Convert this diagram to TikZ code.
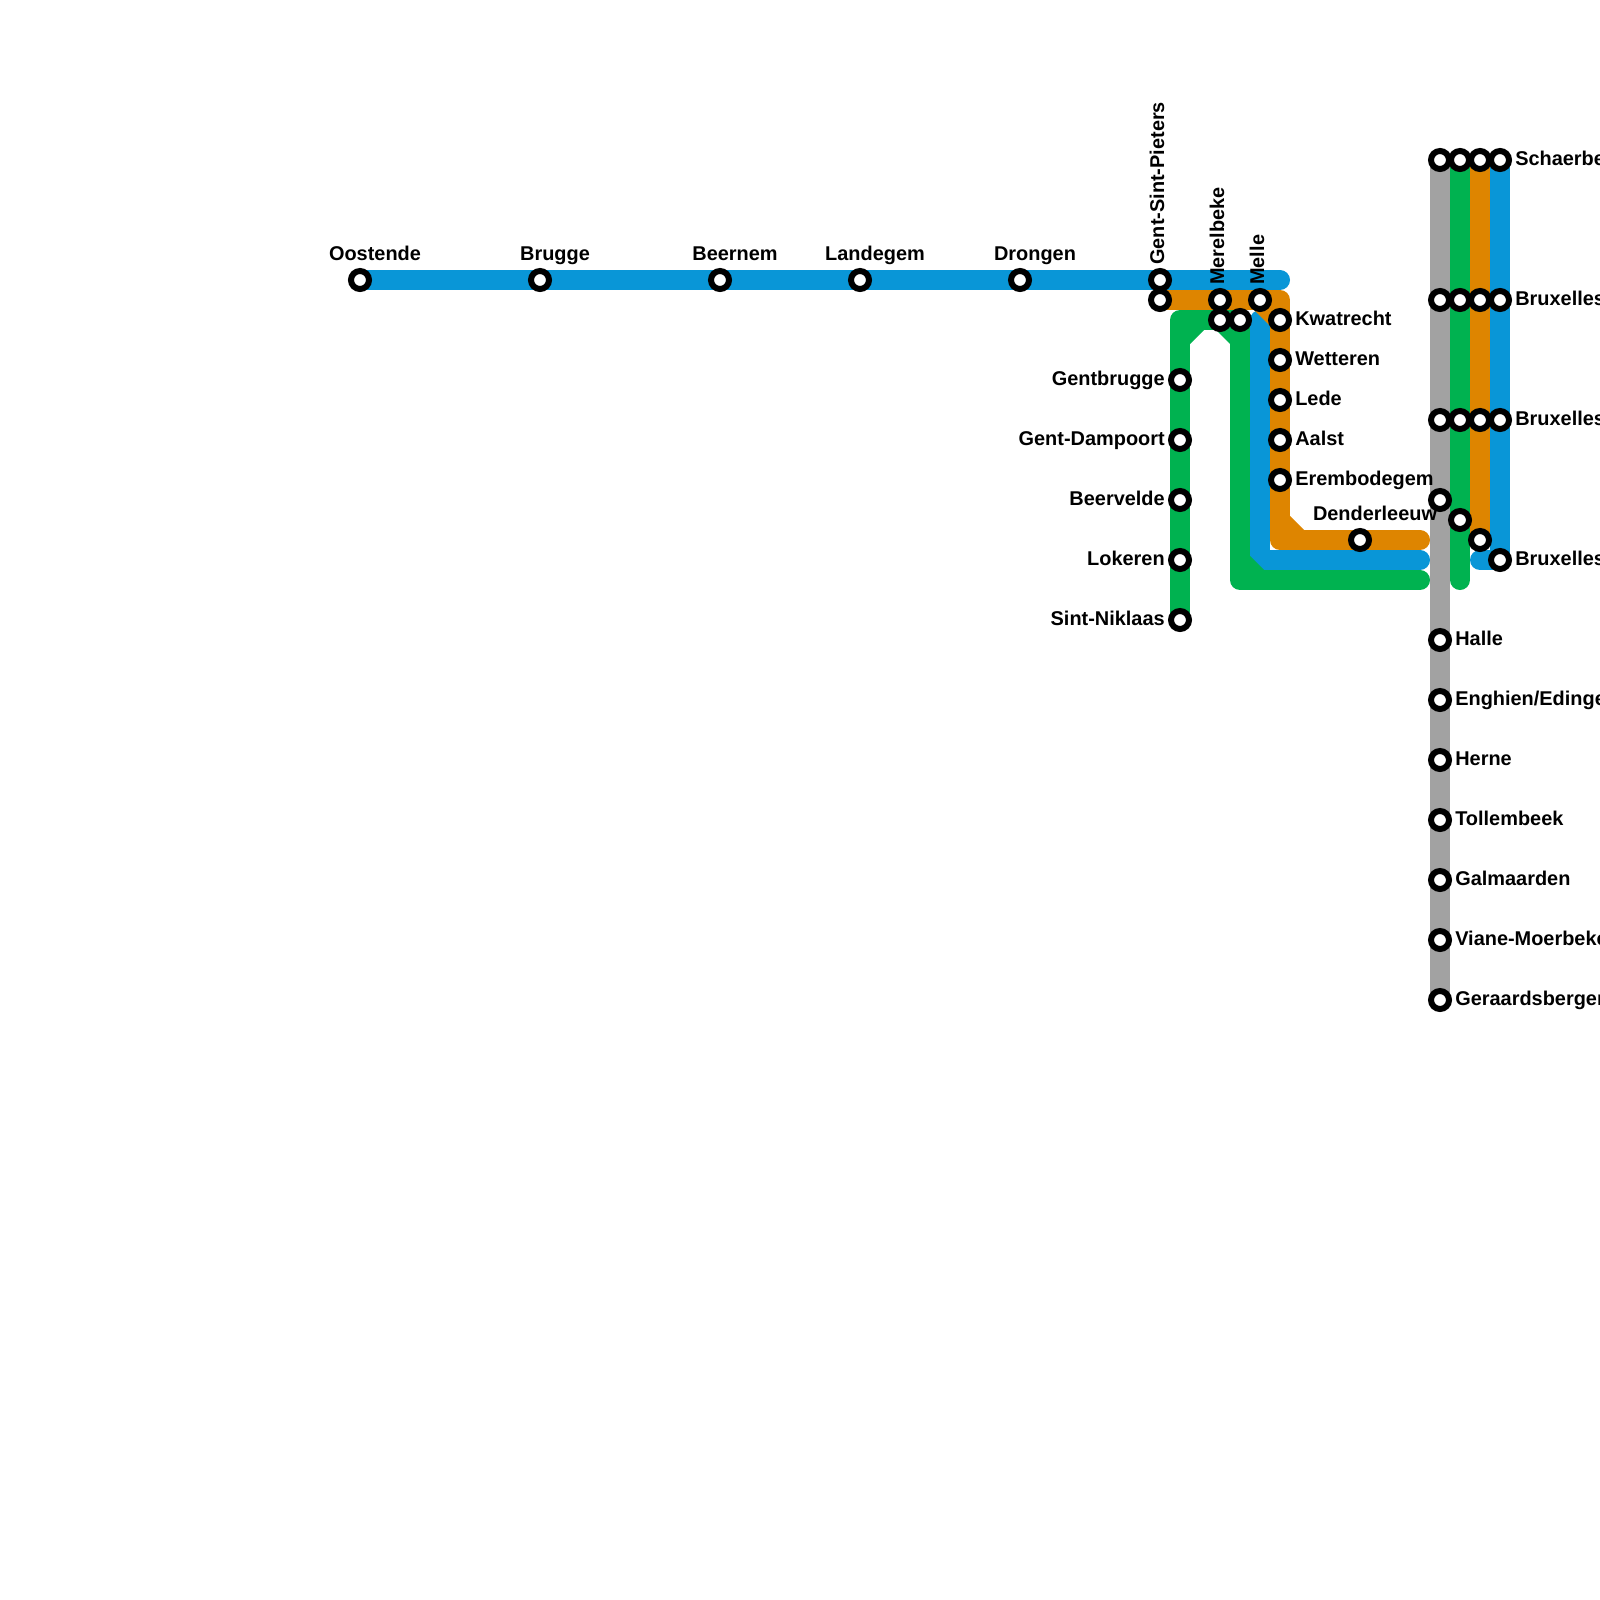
\documentclass[tikz,border=0pt]{standalone}
\usepackage{fontspec}
\setmainfont{Liberation Sans}
\usepackage{xcolor}
\usetikzlibrary{backgrounds}

\definecolor{lineblue}{RGB}{9,150,215}
\definecolor{lineorange}{RGB}{222,133,0}
\definecolor{linegreen}{RGB}{0,178,80}
\definecolor{linegrey}{RGB}{162,162,162}

\tikzset{
  track/.style={line width=0.5cm, line cap=round, line join=round},
  stn/.style={circle, draw=black, fill=white, line width=0.15cm, minimum size=0.45cm, inner sep=0pt, outer sep=0pt},
  txt/.style={inner sep=0pt, font=\fontsize{14.17}{17}\selectfont\bfseries},
  rlabel/.style={txt, anchor=base west, xshift=0.375cm, yshift=-0.135cm},
  llabel/.style={txt, anchor=base east, xshift=-0.375cm, yshift=-0.135cm},
  tlabel/.style={txt, anchor=base, xshift=0.375cm, yshift=0.5cm},
  vlabel/.style={txt, anchor=base west, rotate=90, xshift=0.375cm, yshift=-0.1cm},
}

\begin{document}
\begin{tikzpicture}[x=0.5cm, y=-0.5cm]
\useasboundingbox (0,0) rectangle (80,80);
% станции
\node [stn] (oostende) at (18,14) {};
\node [stn] (brugge) at (27,14) {};
\node [stn] (beernem) at (36,14) {};
\node [stn] (landegem) at (43,14) {};
\node [stn] (drongen) at (51,14) {};
\node [stn] (gentsp) at (58,14) {};
\node [stn] (gentspb) at (58,15) {};
\node [stn] (merelbeke) at (61,15) {};
\node [stn] (merelbekeb) at (61,16) {};
\node [stn] (mellec) at (62,16) {};
\node [stn] (melle) at (63,15) {};
\node [stn] (kwatrecht) at (64,16) {};
\node [stn] (wetteren) at (64,18) {};
\node [stn] (lede) at (64,20) {};
\node [stn] (aalst) at (64,22) {};
\node [stn] (erembodegem) at (64,24) {};
\node [stn] (denderleeuw) at (68,27) {};
\node [stn] (gentbrugge) at (59,19) {};
\node [stn] (dampoort) at (59,22) {};
\node [stn] (beervelde) at (59,25) {};
\node [stn] (lokeren) at (59,28) {};
\node [stn] (niklaas) at (59,31) {};
\node [stn] (schaerbeekd) at (72,8) {};
\node [stn] (schaerbeekc) at (73,8) {};
\node [stn] (schaerbeekb) at (74,8) {};
\node [stn] (schaerbeek) at (75,8) {};
\node [stn] (nordd) at (72,15) {};
\node [stn] (nordc) at (73,15) {};
\node [stn] (nordb) at (74,15) {};
\node [stn] (nord) at (75,15) {};
\node [stn] (centrald) at (72,21) {};
\node [stn] (centralc) at (73,21) {};
\node [stn] (centralb) at (74,21) {};
\node [stn] (central) at (75,21) {};
\node [stn] (midid) at (72,25) {};
\node [stn] (midic) at (73,26) {};
\node [stn] (midib) at (74,27) {};
\node [stn] (midi) at (75,28) {};
\node [stn] (halle) at (72,32) {};
\node [stn] (enghien) at (72,35) {};
\node [stn] (herne) at (72,38) {};
\node [stn] (tollembeek) at (72,41) {};
\node [stn] (galmaarden) at (72,44) {};
\node [stn] (viane) at (72,47) {};
\node [stn] (geraardsbergen) at (72,50) {};
% изгибы и концы линий
\coordinate (bluetop) at (64,14);
\coordinate (bluestart) at (63,16);
\coordinate (bluebend) at (63,28);
\coordinate (blueend) at (71,28);
\coordinate (bluestub) at (74,28);
\coordinate (orangebend) at (64,15);
\coordinate (orangelow) at (64,27);
\coordinate (orangeend) at (71,27);
\coordinate (greenbend) at (59,16);
\coordinate (greenlow) at (62,29);
\coordinate (greenend) at (71,29);
\coordinate (greenstub) at (73,29);
% линии
\begin{scope}[on background layer]
\draw [track, lineblue] (oostende.center) -- (brugge.center) -- (beernem.center) -- (landegem.center) -- (drongen.center) -- (gentsp.center) -- (bluetop);
\draw [track, lineblue] (bluestart) -- (bluebend) -- (blueend);
\draw [track, lineblue] (schaerbeek.center) -- (nord.center) -- (central.center) -- (midi.center) -- (bluestub);
\draw [track, lineorange] (gentspb.center) -- (merelbeke.center) -- (melle.center) -- (orangebend) -- (kwatrecht.center) -- (erembodegem.center) -- (orangelow) -- (denderleeuw.center) -- (orangeend);
\draw [track, lineorange] (schaerbeekb.center) -- (nordb.center) -- (centralb.center) -- (midib.center);
\draw [track, linegreen] (niklaas.center) -- (lokeren.center) -- (beervelde.center) -- (dampoort.center) -- (gentbrugge.center) -- (greenbend) -- (merelbekeb.center) -- (mellec.center) -- (greenlow) -- (greenend);
\draw [track, linegreen] (schaerbeekc.center) -- (nordc.center) -- (centralc.center) -- (midic.center) -- (greenstub);
\draw [track, linegrey] (schaerbeekd.center) -- (nordd.center) -- (centrald.center) -- (midid.center) -- (halle.center) -- (geraardsbergen.center);
% срезы углов
\fill [lineorange] (62.7,15.5) -- (63.5,15.5) -- (63.5,16.3) -- cycle;
\fill [lineorange] (64.5,25.8) -- (65.2,26.5) -- (64.5,26.5) -- cycle;
\fill [linegreen] (59.5,17.2) -- (60.2,16.5) -- (59.5,16.5) -- cycle;
\fill [linegreen] (60.8,16.5) -- (61.5,17.2) -- (61.5,16.5) -- cycle;
\fill [linegreen] (62.5,27.8) -- (63.2,28.5) -- (62.5,28.5) -- cycle;
\end{scope}
% подписи
\node [tlabel] (oostende-t) at (oostende) {Oostende};
\node [tlabel] (brugge-t) at (brugge) {Brugge};
\node [tlabel] (beernem-t) at (beernem) {Beernem};
\node [tlabel] (landegem-t) at (landegem) {Landegem};
\node [tlabel] (drongen-t) at (drongen) {Drongen};
\node [tlabel] (denderleeuw-t) at (denderleeuw) {Denderleeuw};
\node [vlabel] (gentsp-t) at (gentsp) {Gent-Sint-Pieters};
\node [vlabel] (merelbeke-t) at (merelbeke) {Merelbeke};
\node [vlabel] (melle-t) at (melle) {Melle};
\node [rlabel] (kwatrecht-t) at (kwatrecht) {Kwatrecht};
\node [rlabel] (wetteren-t) at (wetteren) {Wetteren};
\node [rlabel] (lede-t) at (lede) {Lede};
\node [rlabel] (aalst-t) at (aalst) {Aalst};
\node [rlabel] (erembodegem-t) at (erembodegem) {Erembodegem};
\node [llabel] (gentbrugge-t) at (gentbrugge) {Gentbrugge};
\node [llabel] (dampoort-t) at (dampoort) {Gent-Dampoort};
\node [llabel] (beervelde-t) at (beervelde) {Beervelde};
\node [llabel] (lokeren-t) at (lokeren) {Lokeren};
\node [llabel] (niklaas-t) at (niklaas) {Sint-Niklaas};
\node [rlabel] (schaerbeek-t) at (schaerbeek) {Schaerbeek};
\node [rlabel] (nord-t) at (nord) {Bruxelles};
\node [rlabel] (central-t) at (central) {Bruxelles};
\node [rlabel] (midi-t) at (midi) {Bruxelles};
\node [rlabel] (halle-t) at (halle) {Halle};
\node [rlabel] (enghien-t) at (enghien) {Enghien/Edingen};
\node [rlabel] (herne-t) at (herne) {Herne};
\node [rlabel] (tollembeek-t) at (tollembeek) {Tollembeek};
\node [rlabel] (galmaarden-t) at (galmaarden) {Galmaarden};
\node [rlabel] (viane-t) at (viane) {Viane-Moerbeke};
\node [rlabel] (geraardsbergen-t) at (geraardsbergen) {Geraardsbergen};
\end{tikzpicture}
\end{document}
